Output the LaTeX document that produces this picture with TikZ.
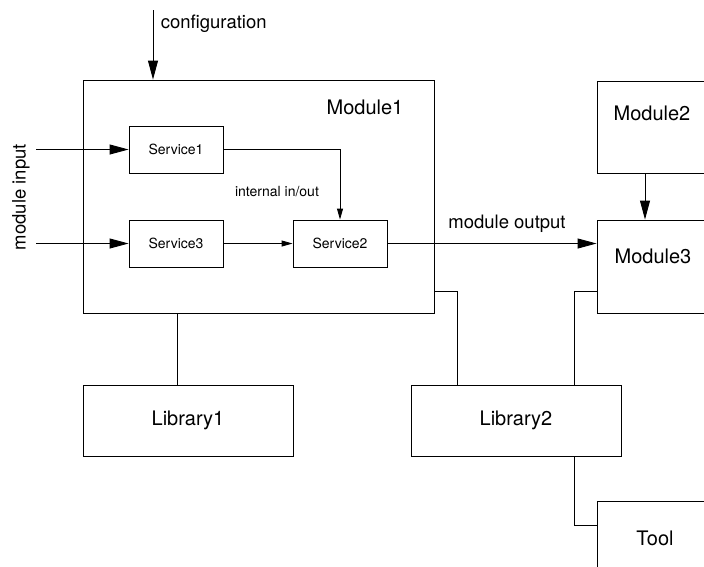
\documentclass[tikz,border=0pt]{standalone}
\usepackage{fontspec}
\setmainfont{TeX Gyre Heros}
\usetikzlibrary{arrows.meta,positioning}

\begin{document}
\begin{tikzpicture}[x=1pt,y=-1pt,line width=0.9pt,
        box/.style={draw,line width=0.9pt,inner sep=0pt},
        big/.style={font=\fontsize{20}{24}\selectfont},
        mid/.style={font=\fontsize{18.5}{22}\selectfont},
        small/.style={font=\fontsize{14}{17}\selectfont},
        bigarrow/.style={-{Triangle[length=19pt,width=10pt]}},
        smallarrow/.style={-{Triangle[length=11pt,width=6pt]}}]
                    \useasboundingbox (0,0) rectangle (704,566);
                    \clip (0,0) rectangle (704,566);

                    % Module1 with its services
                    \node[box,minimum width=351pt,minimum height=233pt] (mod1) at (258.5,196.5) {};
                    \node[big] (mod1txt) at (365,107) {Module1};
                    \node[box,small,minimum width=94pt,minimum height=47pt] (svc1) at (176,149.5) {Service1};
                    \node[box,small,minimum width=94pt,minimum height=47pt] (svc3) at (176,243.5) {Service3};
                    \node[box,small,minimum width=94pt,minimum height=47pt] (svc2) at (340,243.5) {Service2};
                    \node[small] (internal) at (277,192) {internal in/out};

                    \draw [smallarrow] (svc1.east) -| (svc2.north);
                    \draw [smallarrow] (svc3) -- (svc2);

                    % inputs and configuration
                    \coordinate (in1) at (36,149.5); \coordinate (in3) at (36,243.5);
                    \node[mid,rotate=90] (input) at (21,197) {module input};
                    \draw [bigarrow] (in1) -- (svc1);
                    \draw [bigarrow] (in3) -- (svc3);

                    \coordinate (conf) at (153,10);
                    \node[mid,anchor=west] (conftxt) at (157,24) {configuration};
                    \draw [bigarrow] (conf) -- (conf |- mod1.north);

                    % other modules
                    \node[box,minimum width=123pt,minimum height=92pt] (mod2) at (658.5,127) {};
                    \node[big] (mod2txt) at (652,113) {Module2};
                    \node[box,minimum width=123pt,minimum height=93pt] (mod3) at (658.5,266.5) {};
                    \node[big] (mod3txt) at (653,256) {Module3};
                    \node[box,minimum width=123pt,minimum height=119pt] (tool) at (658.5,560.5) {};
                    \node[big] (tooltxt) at (655,538) {Tool};

                    \coordinate (m23) at (645,0);
                    \draw [bigarrow] (mod2.south -| m23) -- (mod3.north -| m23);
                    \draw [bigarrow] (svc2.east) -- (svc2.east -| mod3.west);
                    \node[mid] (outtxt) at (507,224) {module output};

                    % libraries
                    \node[box,big,minimum width=210pt,minimum height=71pt] (lib1) at (188,420.5) {Library1};
                    \node[box,big,minimum width=210pt,minimum height=71pt] (lib2) at (516,420.5) {Library2};

                    \coordinate (l1) at (177,0);
                    \draw (mod1.south -| l1) -- (lib1.north -| l1);
                    \coordinate (j1) at (457,291); \coordinate (j2) at (574,291); \coordinate (j3) at (574,525);
                    \draw (mod1.east |- j1) -| (lib2.north -| j1);
                    \draw (mod3.west |- j2) -| (lib2.north -| j2);
                    \draw (lib2.south -| j3) |- (tool.west |- j3);
                \end{tikzpicture}
\end{document}
